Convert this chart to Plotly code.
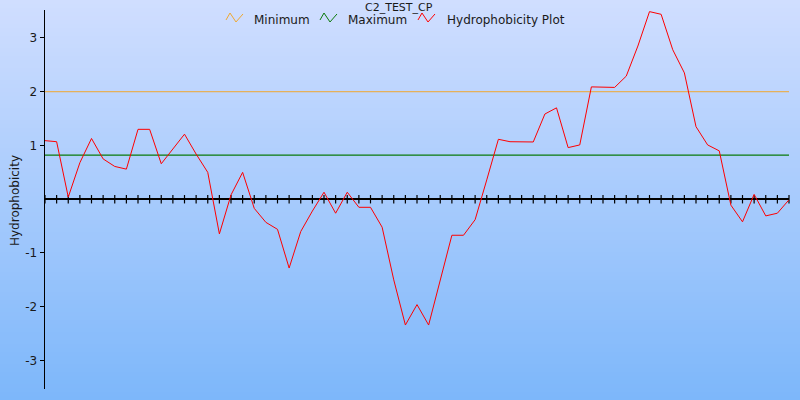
import plotly.graph_objects as go

# ---------------- data ----------------
positions = list(range(1, 66))
hydrophobicity = [1.09, 1.07, 0.04, 0.68, 1.13, 0.75, 0.61, 0.56, 1.30, 1.30,
                  0.66, 0.93, 1.21, 0.84, 0.50, -0.645, 0.08, 0.50, -0.17, -0.43,
                  -0.56, -1.28, -0.60, -0.22, 0.13, -0.26, 0.13, -0.15, -0.15, -0.52,
                  -1.50, -2.34, -1.96, -2.34, -1.52, -0.67, -0.67, -0.38, 0.36, 1.115,
                  1.07, 1.065, 1.065, 1.585, 1.70, 0.96, 1.01, 2.09, 2.08, 2.08,
                  2.29, 2.85, 3.49, 3.44, 2.78, 2.35, 1.35, 1.01, 0.90, -0.11,
                  -0.42, 0.09, -0.31, -0.26, -0.01]
minimum_level = 2.0
maximum_level = 0.82
ytick_values = [-3, -2, -1, 1, 2, 3]
ytick_labels = ["-3", "-2", "-1", "1", "2", "3"]
title_text = "C2_TEST_CP"
legend_names = ["Minimum", "Maximum", "Hydrophobicity Plot"]
y_title = "Hydrophobicity"

# ---------------- layout helpers ----------------
W, H = 800, 400
ML, MR, MT, MB = 45, 11, 10, 11
PW, PH = W - ML - MR, H - MT - MB


def px_x(px):
    return (px - ML) / PW


def px_y(py):
    return (H - MB - py) / PH


FONT = "DejaVu Sans"
TXT = "#1a1a1a"
C_MIN = "#f0a830"
C_MAX = "#0a7a0a"
C_HYD = "#ff0000"

fig = go.Figure()

fig.add_trace(go.Scatter(x=[positions[0], positions[-1]], y=[minimum_level] * 2,
                         mode="lines", line=dict(color=C_MIN, width=1),
                         name=legend_names[0], showlegend=False, hoverinfo="skip"))
fig.add_trace(go.Scatter(x=[positions[0], positions[-1]], y=[maximum_level] * 2,
                         mode="lines", line=dict(color=C_MAX, width=1.3),
                         name=legend_names[1], showlegend=False, hoverinfo="skip"))
# tick marks along the zero axis
fig.add_trace(go.Scatter(x=positions, y=[0] * len(positions), mode="markers",
                         marker=dict(symbol="line-ns", size=6,
                                     line=dict(width=1.2, color="black")),
                         showlegend=False, hoverinfo="skip", cliponaxis=False))
fig.add_trace(go.Scatter(x=positions, y=hydrophobicity, mode="lines",
                         line=dict(color=C_HYD, width=1),
                         name=legend_names[2], showlegend=False))

shapes = []
# background vertical gradient
top = (208, 222, 255)
bot = (125, 183, 250)
N = 100
for i in range(N):
    t = i / (N - 1)
    c = tuple(round(top[j] + (bot[j] - top[j]) * t) for j in range(3))
    y0 = H * i / N
    y1 = H * (i + 1) / N + 0.5
    shapes.append(dict(type="rect", xref="paper", yref="paper",
                       x0=px_x(0), x1=px_x(W), y0=px_y(y1), y1=px_y(y0),
                       fillcolor="rgb(%d,%d,%d)" % c, line=dict(width=0),
                       layer="below"))

# custom legend zigzag icons
legend_items = [
    (226, C_MIN, 253, legend_names[0]),
    (320, C_MAX, 347, legend_names[1]),
    (418, C_HYD, 446, legend_names[2]),
]
annotations = []
for x0, col, tx, name in legend_items:
    pts = [(x0, 20), (x0 + 4, 13), (x0 + 10, 22), (x0 + 17, 14)]
    path = "M " + " L ".join("%f,%f" % (px_x(a), px_y(b)) for a, b in pts)
    shapes.append(dict(type="path", xref="paper", yref="paper", path=path,
                       line=dict(color=col, width=1)))
    annotations.append(dict(text=name, xref="paper", yref="paper",
                            x=px_x(tx), y=px_y(19.8), xanchor="left",
                            yanchor="middle", showarrow=False, borderpad=0,
                            font=dict(family=FONT, size=12, color=TXT)))

annotations.append(dict(text=title_text, xref="paper", yref="paper",
                        x=px_x(399), y=px_y(7), xanchor="center",
                        yanchor="middle", showarrow=False, borderpad=0,
                        font=dict(family=FONT, size=11, color=TXT)))
annotations.append(dict(text=y_title, xref="paper", yref="paper",
                        x=px_x(15), y=px_y(201), xanchor="center",
                        yanchor="middle", textangle=-90, showarrow=False,
                        font=dict(family=FONT, size=12, color=TXT)))

fig.update_layout(
    width=W, height=H,
    margin=dict(l=ML, r=MR, t=MT, b=MB, pad=0),
    paper_bgcolor="rgba(0,0,0,0)",
    plot_bgcolor="rgba(0,0,0,0)",
    font=dict(family=FONT, size=12, color=TXT),
    shapes=shapes,
    annotations=annotations,
    showlegend=False,
    hovermode=False,
    xaxis=dict(range=[positions[0], positions[-1]], showgrid=False,
               zeroline=False, showline=False, showticklabels=False,
               ticks=""),
    yaxis=dict(range=[-3.53, 3.52], showgrid=False, zeroline=True,
               zerolinecolor="black", zerolinewidth=1.5,
               showline=True, linecolor="black", linewidth=1.5,
               ticks="outside", ticklen=4, tickcolor="black", tickwidth=1,
               tickvals=ytick_values, ticktext=ytick_labels,
               tickfont=dict(family=FONT, size=12, color=TXT)),
)

fig.write_html("out.html",
               config={"displayModeBar": False, "staticPlot": True},
               post_script="document.body.style.margin='0';"
                           "document.body.style.overflow='hidden';")
